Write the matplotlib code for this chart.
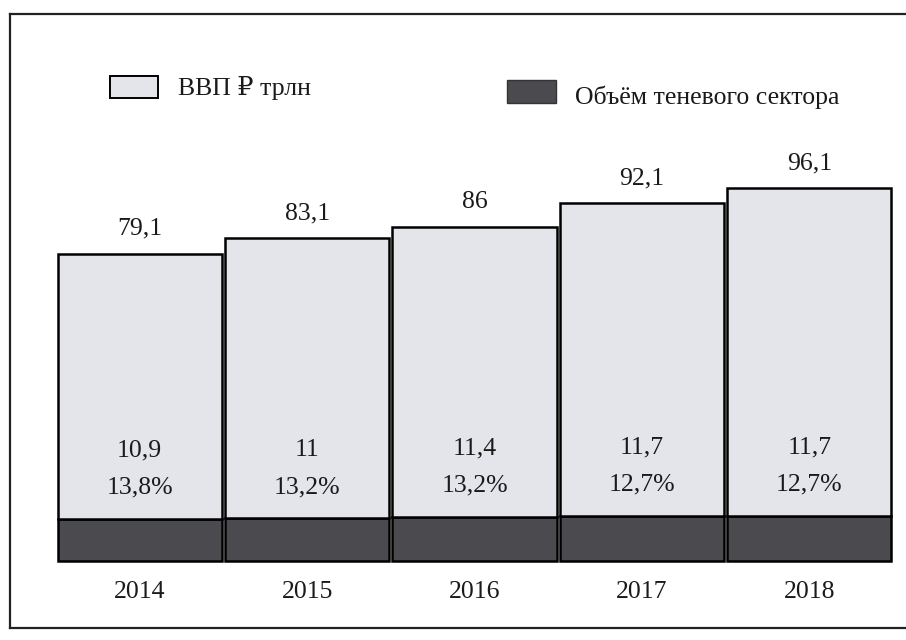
import matplotlib
matplotlib.use("Agg")
import matplotlib.pyplot as plt
from matplotlib.patches import Rectangle
from matplotlib.lines import Line2D

years = ["2014", "2015", "2016", "2017", "2018"]
gdp = [79.1, 83.1, 86, 92.1, 96.1]
shadow = [10.9, 11, 11.4, 11.7, 11.7]
gdp_labels = ["79,1", "83,1", "86", "92,1", "96,1"]
shadow_labels = ["10,9", "11", "11,4", "11,7", "11,7"]
pct_labels = ["13,8%", "13,2%", "13,2%", "12,7%", "12,7%"]
legend_labels = ["ВВП ₽ трлн", "Объём теневого сектора"]

FONT = ["Liberation Serif", "DejaVu Serif"]
plt.rcParams["font.family"] = FONT

LIGHT = "#e3e5eb"
DARK = "#4b4b4f"
FS = 18.5

W, H = 906, 640
fig = plt.figure(figsize=(W / 100, H / 100), dpi=100)
fig.patch.set_facecolor("white")

def fx(px):
    return px / W

def fy(py):
    return 1 - py / H

ax = fig.add_axes([fx(56), fy(561), fx(893) - fx(56), (561 - 134) / H])
x = list(range(len(years)))
rest = [g - s for g, s in zip(gdp, shadow)]
b1 = ax.bar(x, shadow, width=0.98, color=DARK, edgecolor="black", linewidth=1.8)
b2 = ax.bar(x, rest, bottom=shadow, width=0.98, color=LIGHT, edgecolor="black", linewidth=1.8)
for p in list(b1) + list(b2):
    p.set_clip_on(False)

ax.set_xlim(-0.5, 4.5)
ax.set_ylim(0, 110)
ax.axis("off")

for i in x:
    ax.annotate(gdp_labels[i], (i, gdp[i]), xytext=(0, 25), textcoords="offset pixels",
                ha="center", va="center", fontsize=FS, color="#1a1a1a")
    ax.annotate(shadow_labels[i], (i, shadow[i]), xytext=(0, 68), textcoords="offset pixels",
                ha="center", va="center", fontsize=FS, color="#1a1a1a")
    ax.annotate(pct_labels[i], (i, shadow[i]), xytext=(0, 31), textcoords="offset pixels",
                ha="center", va="center", fontsize=FS, color="#1a1a1a")
    ax.annotate(years[i], (i, 0), xytext=(0, -31), textcoords="offset pixels",
                ha="center", va="center", fontsize=FS, color="#1a1a1a")

# Legend drawn by hand to match the placement in the reference
fig.patches.append(Rectangle((fx(110), fy(98)), fx(158) - fx(110), (98 - 76) / H,
                             transform=fig.transFigure, facecolor=LIGHT,
                             edgecolor="black", linewidth=1.4))
fig.text(fx(178), fy(88), legend_labels[0], ha="left", va="center", fontsize=FS, color="#1a1a1a")
fig.patches.append(Rectangle((fx(507), fy(103)), fx(556) - fx(507), (103 - 80) / H,
                             transform=fig.transFigure, facecolor=DARK,
                             edgecolor="#333333", linewidth=1.0))
fig.text(fx(575), fy(97), legend_labels[1], ha="left", va="center", fontsize=FS, color="#1a1a1a")

# Outer frame (right side lies beyond the picture)
for (x0, y0, x1, y1) in [(10, 14, 910, 14), (10, 14, 10, 628), (10, 628, 910, 628)]:
    fig.lines.append(Line2D([fx(x0), fx(x1)], [fy(y0), fy(y1)], transform=fig.transFigure,
                            color="#222222", linewidth=1.6))

fig.savefig("out.png", dpi=100, facecolor="white")
